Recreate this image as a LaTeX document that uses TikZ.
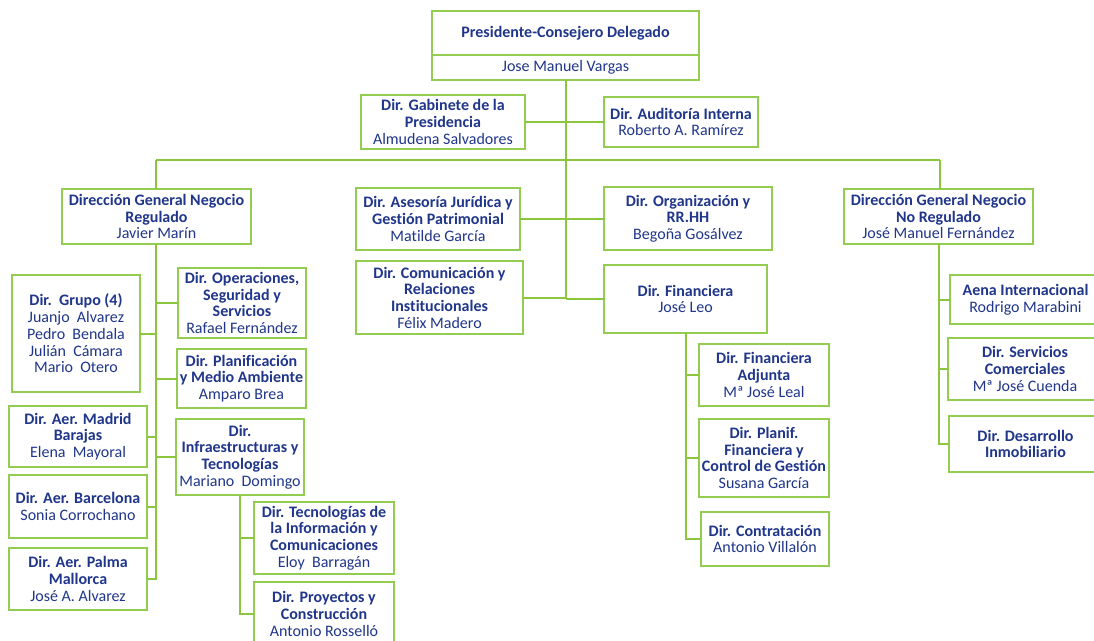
\documentclass[tikz,border=0pt]{standalone}
\usepackage{fontspec}
\setmainfont{Carlito}[Ligatures=NoCommon]
\definecolor{boxgreen}{RGB}{146,204,80}
\definecolor{linegreen}{RGB}{140,198,63}
\definecolor{txtblue}{RGB}{32,54,138}
\newcommand\tb[1]{\textbf{#1}}
\newcommand\bx[6]{\node[box, minimum width={(#4-#2)*1pt}, minimum height={(#5-#3)*1pt}] (#1) at ({(#2+#4)/2},{(#3+#5)/2}) {#6};}
\begin{document}
\begin{tikzpicture}[x=1pt,y=-1pt,
  box/.style={draw=boxgreen, line width=1.6pt, rectangle, align=center, inner sep=1pt, outer sep=0pt, text=txtblue, font=\fontsize{16}{16.7}\selectfont},
  conn/.style={draw=linegreen, line width=2pt}]
\fill[white] (0,0) rectangle (1094,640);
\useasboundingbox (0,0) rectangle (1094,640);
\clip (0,0) rectangle (1094,640);
% top
\bx{pres}{432}{11}{699}{55}{\tb{Presidente-Consejero Delegado}}
\bx{presn}{432}{55}{699}{80}{Jose Manuel Vargas}
\bx{gab}{361}{95}{525}{149}{\tb{Dir. Gabinete de la}\\\tb{Presidencia}\\Almudena Salvadores}
\bx{aud}{604}{97}{758}{147}{\tb{Dir. Auditoría Interna}\\Roberto A. Ramírez}
% second level
\bx{dgr}{62}{189}{251}{244}{\tb{Dirección General Negocio}\\\tb{Regulado}\\Javier Marín}
\bx{ase}{356}{188}{520}{250}{\tb{Dir. Asesoría Jurídica y}\\\tb{Gestión Patrimonial}\\Matilde García}
\bx{org}{604}{187}{772}{250}{\tb{Dir. Organización y}\\\tb{RR.HH}\\Begoña Gosálvez}
\bx{com}{356}{261}{523}{334}{\tb{Dir. Comunicación y}\\\tb{Relaciones}\\\tb{Institucionales}\\Félix Madero}
\bx{fin}{604}{265}{767}{333}{\tb{Dir. Financiera}\\José Leo}
\bx{dgnr}{844}{189}{1033}{244}{\tb{Dirección General Negocio}\\\tb{No Regulado}\\José Manuel Fernández}
% left branch
\bx{gru}{12}{275}{140}{392}{\tb{Dir.\ \ Grupo (4)}\\Juanjo\ \ Alvarez\\Pedro\ \ Bendala\\Julián\ \ Cámara\\Mario\ \ Otero}
\bx{ope}{178}{268}{306}{338}{\tb{Dir. Operaciones,}\\\tb{Seguridad y}\\\tb{Servicios}\\Rafael Fernández}
\bx{pla}{177}{349}{306}{408}{\tb{Dir. Planificación}\\\tb{y Medio Ambiente}\\Amparo Brea}
\bx{mad}{9}{406}{147}{467}{\tb{Dir. Aer. Madrid}\\\tb{Barajas}\\Elena\ \ Mayoral}
\bx{inf}{176}{419}{304}{495}{\tb{Dir.}\\\tb{Infraestructuras y}\\\tb{Tecnologías}\\Mariano\ \ Domingo}
\bx{bcn}{9}{475}{147}{538}{\tb{Dir. Aer. Barcelona}\\Sonia Corrochano}
\bx{pal}{9}{548}{147}{610}{\tb{Dir. Aer. Palma}\\\tb{Mallorca}\\José A. Alvarez}
\bx{tec}{254}{502}{394}{574}{\tb{Dir. Tecnologías de}\\\tb{la Información y}\\\tb{Comunicaciones}\\Eloy\ \ Barragán}
\bx{pro}{254}{582}{394}{646}{\tb{Dir. Proyectos y}\\\tb{Construcción}\\Antonio Rosselló}
% finance branch
\bx{adj}{699}{344}{829}{406}{\tb{Dir. Financiera}\\\tb{Adjunta}\\Mª José Leal}
\bx{plf}{699}{419}{829}{497}{\tb{Dir. Planif.}\\\tb{Financiera y}\\\tb{Control de Gestión}\\Susana García}
\bx{ctr}{701}{512}{829}{566}{\tb{Dir. Contratación}\\Antonio Villalón}
% right branch
\bx{aen}{950}{275}{1101}{324}{\tb{Aena Internacional}\\Rodrigo Marabini}
\bx{ser}{948}{338}{1102}{400}{\tb{Dir. Servicios}\\\tb{Comerciales}\\Mª José Cuenda}
\bx{des}{949}{416}{1102}{472}{\tb{Dir. Desarrollo}\\\tb{Inmobiliario}}
% connectors
\coordinate (t1) at (566,298);
\coordinate (bl) at (156,160);
\coordinate (br) at (940,160);
\coordinate (lt) at (156,580);
\draw[conn] (presn.south -| t1) -- (t1);
\draw[conn] (gab.east) -- (gab.east -| t1);
\draw[conn] (aud.west) -- (aud.west -| t1);
\draw[conn] (bl) -- (br);
\draw[conn] (bl) -- (bl |- dgr.north);
\draw[conn] (br) -- (br |- dgnr.north);
\draw[conn] (ase.east) -- (ase.east -| t1);
\draw[conn] (org.west) -- (org.west -| t1);
\draw[conn] (com.east) -- (com.east -| t1);
\draw[conn] (fin.west) -- (fin.west -| t1);
% left trunk
\draw[conn] (dgr.south -| lt) -- (lt);
\foreach \n in {gru,mad,bcn,pal}{\draw[conn] (\n.east) -- (\n.east -| lt);}
\foreach \n in {ope,pla,inf}{\draw[conn] (\n.west) -- (\n.west -| lt);}
% infra sub-trunk
\draw[conn] (inf.south) |- (pro.west);
\draw[conn] (tec.west) -- (tec.west -| inf.south);
% finance sub-trunk
\draw[conn] (fin.south) |- (ctr.west);
\draw[conn] (adj.west) -- (adj.west -| fin.south);
\draw[conn] (plf.west) -- (plf.west -| fin.south);
% right sub-trunk
\draw[conn] (dgnr.south) |- (des.west);
\draw[conn] (aen.west) -- (aen.west -| dgnr.south);
\draw[conn] (ser.west) -- (ser.west -| dgnr.south);
\end{tikzpicture}
\end{document}
